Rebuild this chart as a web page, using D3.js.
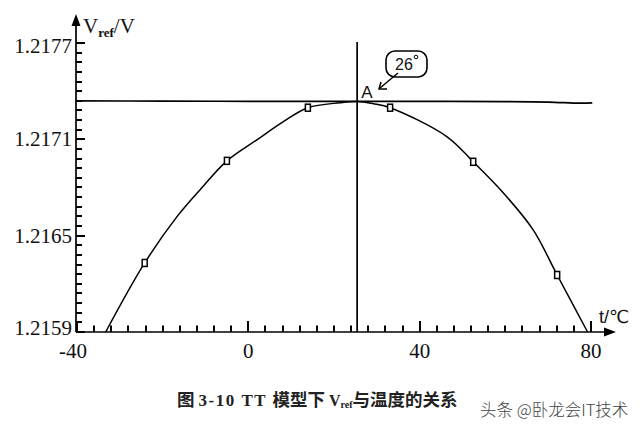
<!DOCTYPE html>
<html>
<head>
<meta charset="utf-8">
<script src="https://cdn.jsdelivr.net/npm/d3@7/dist/d3.min.js"></script>
<style>
  html, body { margin: 0; padding: 0; background: #fff; }
  svg { display: block; }
</style>
</head>
<body>
<svg id="chart" width="640" height="432"></svg>
<script>
// ---- data ----
const curveT = [-33.3, -24.2, -16.7, -11.3, -5.0, 2.0, 8.1, 13.9, 21.4, 25.4, 29.2, 33.1, 46.4, 52.5, 59.5, 66.5, 72.1, 79.2];
const curveV = [1.21590, 1.21633, 1.216617, 1.216785, 1.216966, 1.217097, 1.217209, 1.217297, 1.217328, 1.217336, 1.217322, 1.217297, 1.217116, 1.216960, 1.216767, 1.216536, 1.216255, 1.21590];
const markerT = [-24.2, -5.0, 13.9, 33.1, 52.5, 72.1];
const markerV = [1.21633, 1.216966, 1.217297, 1.217297, 1.21696, 1.216255];
const flatT = [-40.4, -20, 0, 20, 40, 60, 70, 77.5, 80.3];
const flatV = [1.21734, 1.217338, 1.217337, 1.217336, 1.217336, 1.217335, 1.217332, 1.217325, 1.217327];
const peakT = 25.4;
const xMajorTicks = [-40, 0, 40, 80];
const yMajorTicks = [1.2159, 1.2165, 1.2171, 1.2177];
const xMinorTicks = [-40, -36, -32, -28, -24, -20, -16, -12, -8, -4, 0, 4, 8, 12, 16, 20, 24, 28, 32, 36, 40, 44, 48, 52, 56, 60, 64, 68, 72, 76, 80];
const yMinorTicks = [1.2159, 1.21596, 1.21602, 1.21608, 1.21614, 1.2162, 1.21626, 1.21632, 1.21638, 1.21644, 1.2165, 1.21656, 1.21662, 1.21668, 1.21674, 1.2168, 1.21686, 1.21692, 1.21698, 1.21704, 1.2171, 1.21716, 1.21722, 1.21728, 1.21734, 1.2174, 1.21746, 1.21752, 1.21758, 1.21764, 1.2177];
const xLabel = "t/℃";
const yLabelMain = "V";
const yLabelSub = "ref";
const yLabelUnit = "/V";
const annotText = "26";
const pointLabel = "A";
const watermark = "头条 @卧龙会IT技术";

// ---- layout ----
const svg = d3.select("#chart");
const x = d3.scaleLinear().domain([-40, 80]).range([77, 591]);
const y = d3.scaleLinear().domain([1.2159, 1.2177]).range([332, 43]);
const ink = "#000";
const serif = "Liberation Serif, Times New Roman, serif";

const ax0 = x(-40) - 1, ay0 = y(1.2159);

// tick marks as small filled polygons (2px thick)
let yd = "";
yMinorTicks.forEach(v => {
  const len = yMajorTicks.indexOf(v) >= 0 ? 9 : 6;
  const yy = Math.round(y(v));
  yd += `M${ax0},${yy - 1}h${len}v2h${-len}Z`;
});
svg.append("path").attr("d", yd).attr("fill", "#000").attr("stroke", "none");

let xd = "";
xMinorTicks.forEach(v => {
  const len = xMajorTicks.indexOf(v) >= 0 ? 11 : 6.5;
  const xx = Math.round(x(v));
  xd += `M${xx - 1},${ay0}v${-len}h2v${len}Z`;
});
svg.append("path").attr("d", xd).attr("fill", "#000").attr("stroke", "none");

// axis lines with arrows
svg.append("path").attr("d", `M${ax0},${ay0}V22`).attr("stroke", ink).attr("stroke-width", 1.7);
svg.append("path").attr("d", `M${ax0},14 L${ax0 - 4.5},26 L${ax0 + 4.5},26 Z`).attr("fill", ink);
svg.append("path").attr("d", `M${ax0},${ay0}H608`).attr("stroke", ink).attr("stroke-width", 1.7);
svg.append("path").attr("d", `M616,${ay0} L604,${ay0 - 4.5} L604,${ay0 + 4.5} Z`).attr("fill", ink);

// tick labels
svg.append("g").selectAll("text").data(yMajorTicks).enter().append("text")
  .attr("x", ax0 - 4).attr("y", d => y(d) + (d === yMajorTicks[0] ? -4 : d === yMajorTicks[3] ? 3 : 0))
  .attr("dy", "0.34em")
  .attr("text-anchor", "end").attr("font-family", serif).attr("font-size", 21).attr("fill", "#111")
  .text(d => d3.format(".4f")(d));
svg.append("g").selectAll("text").data(xMajorTicks).enter().append("text")
  .attr("x", d => x(d) - (d < 0 ? 4 : 0)).attr("y", 358)
  .attr("text-anchor", "middle").attr("font-family", serif).attr("font-size", 21).attr("fill", "#111")
  .text(d => d < 0 ? "-" + Math.abs(d) : d);

// axis titles
const yt = svg.append("text").attr("x", 83).attr("y", 33)
  .attr("font-family", serif).attr("font-size", 21).attr("fill", "#111");
yt.append("tspan").text(yLabelMain);
yt.append("tspan").attr("font-size", 13).attr("font-weight", "bold").attr("dy", 4).text(yLabelSub);
yt.append("tspan").attr("dy", -4).text(yLabelUnit);

svg.append("text").attr("x", 599).attr("y", 323)
  .attr("font-family", "Liberation Sans, DejaVu Sans, sans-serif").attr("font-size", 18).attr("fill", "#111")
  .text(xLabel);

// flat horizontal line
const line = d3.line().x(d => x(d[0])).y(d => y(d[1])).curve(d3.curveCatmullRom.alpha(0.5));
svg.append("path").datum(flatT.map((t, i) => [t, flatV[i]])).attr("d", line)
  .attr("fill", "none").attr("stroke", ink).attr("stroke-width", 1.7);

// vertical line at the peak temperature
svg.append("path").attr("d", `M${x(peakT)},42V${ay0}`).attr("stroke", ink).attr("stroke-width", 1.7);

// curve
svg.append("path").datum(curveT.map((t, i) => [t, curveV[i]])).attr("d", line)
  .attr("fill", "none").attr("stroke", ink).attr("stroke-width", 1.5);

// markers
svg.selectAll("rect.mk").data(markerT.map((t, i) => [t, markerV[i]])).enter().append("rect")
  .attr("class", "mk")
  .attr("x", d => x(d[0]) - 2.5).attr("y", d => y(d[1]) - 3.5)
  .attr("width", 5).attr("height", 7)
  .attr("fill", "#fff").attr("stroke", ink).attr("stroke-width", 1.5);

// annotation: A + rounded box with 26°
svg.append("text").attr("x", x(peakT) + 4).attr("y", 98)
  .attr("font-family", "Liberation Sans, Arial, sans-serif").attr("font-size", 17).attr("fill", "#111")
  .text(pointLabel);
svg.append("rect").attr("x", 386).attr("y", 51).attr("width", 41).attr("height", 26).attr("rx", 9)
  .attr("fill", "#fff").attr("stroke", ink).attr("stroke-width", 1.6);
svg.append("text").attr("x", 395).attr("y", 70)
  .attr("font-family", "Liberation Sans, Arial, sans-serif").attr("font-size", 16).attr("fill", "#111")
  .text(annotText);
svg.append("circle").attr("cx", 416).attr("cy", 57).attr("r", 1.8)
  .attr("fill", "none").attr("stroke", ink).attr("stroke-width", 1);
svg.append("path").attr("d", "M398,73 L380,88").attr("stroke", ink).attr("stroke-width", 1.5).attr("fill", "none");
svg.append("path").attr("d", "M381,82 L379,89 L387,89").attr("stroke", ink).attr("stroke-width", 1.5).attr("fill", "none");

// caption
const cjk = "Noto Sans CJK SC, sans-serif";
const cap = svg.append("text").attr("x", 177).attr("y", 406)
  .attr("font-weight", "bold").attr("font-size", 17.5).attr("fill", "#222");
cap.append("tspan").attr("font-family", cjk).text("图 ");
cap.append("tspan").attr("font-family", serif).attr("font-size", 17).attr("letter-spacing", 1.5).text("3-10 TT ");
cap.append("tspan").attr("font-family", cjk).text("模型下 ");
cap.append("tspan").attr("font-family", serif).attr("font-size", 16).text("V");
cap.append("tspan").attr("font-family", serif).attr("font-size", 10).attr("dy", 2).text("ref");
cap.append("tspan").attr("font-family", cjk).attr("dy", -2).text("与温度的关系");

// watermark
svg.append("text").attr("x", 480).attr("y", 416)
  .attr("font-family", cjk).attr("font-weight", 300)
  .attr("font-size", 16.5).attr("fill", "#444").text(watermark);
</script>
</body>
</html>
